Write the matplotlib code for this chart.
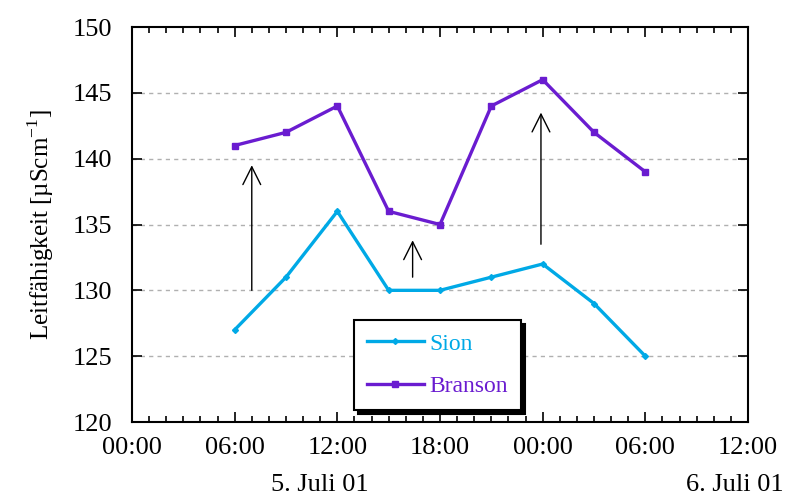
import matplotlib
matplotlib.use("Agg")
import matplotlib.pyplot as plt
from matplotlib.ticker import MultipleLocator, FuncFormatter

plt.rcParams['font.family'] = ['Liberation Serif', 'DejaVu Serif']
plt.rcParams['mathtext.fontset'] = 'custom'
plt.rcParams['mathtext.rm'] = 'Liberation Serif'

# hours since 5. Juli 01, 00:00
hours = [6, 9, 12, 15, 18, 21, 24, 27, 30]
sion = [127, 131, 136, 130, 130, 131, 132, 129, 125]
branson = [141, 142, 144, 136, 135, 144, 146, 142, 139]

# vertical arrows (x in hours, from -> to)
arrow_x = [7, 16.4, 23.9]
arrow_from = [130, 131, 133.5]
arrow_to = [139.5, 133.8, 143.5]

c_sion = '#00A9E6'
c_branson = '#6A1CD0'

fig = plt.figure(figsize=(7.99, 4.98), dpi=100)
ax = fig.add_axes([132/799, 1-422/498, 616/799, 395/498])

ax.plot(hours, sion, color=c_sion, lw=2.4, marker='D', ms=3, label='Sion')
ax.plot(hours, branson, color=c_branson, lw=2.4, marker='s', ms=5, label='Branson')

for x, y0, y1 in zip(arrow_x, arrow_from, arrow_to):
    ax.annotate('', xy=(x, y1), xytext=(x, y0),
                arrowprops=dict(arrowstyle='->', color='k', lw=1.0,
                                mutation_scale=32, shrinkA=0, shrinkB=0))

ax.set_xlim(0, 36)
ax.set_ylim(120, 150)
ax.xaxis.set_major_locator(MultipleLocator(6))
ax.xaxis.set_minor_locator(MultipleLocator(1))
ax.xaxis.set_major_formatter(FuncFormatter(lambda v, p: '%02d:00' % (int(v) % 24)))
ax.yaxis.set_major_locator(MultipleLocator(5))

for g in [125, 130, 135, 140, 145]:
    ax.axhline(g, color='#b0b0b0', lw=1.0, ls=(0, (3, 3)), zorder=0)

ax.tick_params(which='both', direction='in', top=True, right=True, labelsize=19, width=1.2)
ax.tick_params(which='major', length=7)
ax.tick_params(which='minor', length=4)
ax.tick_params(axis='x', pad=11)
ax.tick_params(axis='y', pad=14)
for s in ax.spines.values():
    s.set_linewidth(1.5)

ax.set_ylabel('Leitfähigkeit [µScm$^{-1}$]', fontsize=18, labelpad=12)

fig.text(320/799, 1-485/498, '5. Juli 01', ha='center', va='center', fontsize=19)
fig.text(735/799, 1-485/498, '6. Juli 01', ha='center', va='center', fontsize=19)

leg = ax.legend(loc='upper left', bbox_to_anchor=(222/616, 102/395),
                fancybox=False, shadow={'color': 'k', 'alpha': 1.0, 'ox': 3, 'oy': -3},
                framealpha=1, edgecolor='k', fontsize=17, numpoints=1,
                handlelength=2.4, labelspacing=0.9, borderpad=0.55, handletextpad=0.25,
                borderaxespad=0)
leg.get_frame().set_linewidth(1.5)
for t, c in zip(leg.get_texts(), [c_sion, c_branson]):
    t.set_color(c)

fig.savefig('out.png', dpi=100)
